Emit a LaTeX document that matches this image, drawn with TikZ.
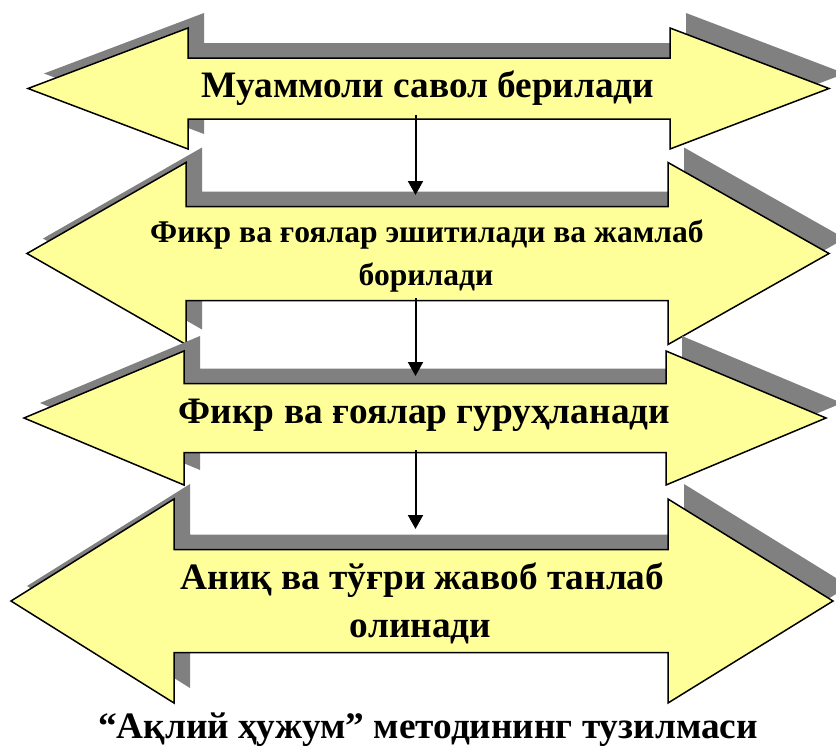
\documentclass[tikz,border=0pt]{standalone}
\usepackage{fontspec}
\setmainfont{Liberation Serif}
\usetikzlibrary{arrows.meta}
\definecolor{arrowfill}{HTML}{FFFF99}
\definecolor{shadowgray}{HTML}{808080}
\newcommand{\dblarrow}[8]{\path[#1] (#2,#6) -- (#3,#6-#7) -- (#3,#6-#8) -- (#4,#6-#8) -- (#4,#6-#7) -- (#5,#6) -- (#4,#6+#7) -- (#4,#6+#8) -- (#3,#6+#8) -- (#3,#6+#7) -- cycle;}
\begin{document}
\begin{tikzpicture}[x=1pt,y=-1pt,
  shadowshape/.style={fill=shadowgray,shift={(16,-15)}},
  arrowshape/.style={fill=arrowfill,draw=black,line width=1.5pt,line join=miter},
  steptext/.style={anchor=base,inner sep=0pt,font=\bfseries},
  connector/.style={draw=black,line width=2pt,-{Triangle[width=15pt,length=14pt]}}]
\useasboundingbox (0,0) rectangle (836,747);
\clip (0,0) rectangle (836,747);
% arrow 1
\dblarrow{shadowshape}{28}{188}{670}{829}{88.5}{60.5}{30.5}
\dblarrow{arrowshape}{28}{188}{670}{829}{88.5}{60.5}{30.5}
% arrow 2
\dblarrow{shadowshape}{27}{186}{668}{829}{253.5}{91}{47}
\dblarrow{arrowshape}{27}{186}{668}{829}{253.5}{91}{47}
% arrow 3
\dblarrow{shadowshape}{24}{184}{666}{826}{418}{67}{34.5}
\dblarrow{arrowshape}{24}{184}{666}{826}{418}{67}{34.5}
% arrow 4
\dblarrow{shadowshape}{11}{174}{668}{833}{601}{102}{51.5}
\dblarrow{arrowshape}{11}{174}{668}{833}{601}{102}{51.5}
% texts
\node[steptext,font=\bfseries\fontsize{37.3}{44}\selectfont] (t1) at (428,97) {Муаммоли савол берилади};
\node[steptext,font=\bfseries\fontsize{31.6}{38}\selectfont] (t2a) at (427,242) {Фикр ва ғоялар эшитилади ва жамлаб};
\node[steptext,font=\bfseries\fontsize{31.6}{38}\selectfont] (t2b) at (426,285) {борилади};
\node[steptext,font=\bfseries\fontsize{37.3}{44}\selectfont] (t3) at (424.5,423) {Фикр ва ғоялар гуруҳланади};
\node[steptext,font=\bfseries\fontsize{37.3}{44}\selectfont] (t4a) at (422.5,589) {Аниқ ва тўғри жавоб танлаб};
\node[steptext,font=\bfseries\fontsize{37.3}{44}\selectfont] (t4b) at (420.5,637) {олинади};
\node[steptext,font=\bfseries\fontsize{37.3}{44}\selectfont] (title) at (428,738) {“Ақлий ҳужум” методининг тузилмаси};
% connectors
\coordinate (c1s) at (415.5,115);
\coordinate (c1e) at (415.5,195);
\coordinate (c2s) at (415.5,298);
\coordinate (c2e) at (415.5,376);
\coordinate (c3s) at (415.5,450);
\coordinate (c3e) at (415.5,529);
\draw[connector] (c1s) -- (c1e);
\draw[connector] (c2s) -- (c2e);
\draw[connector] (c3s) -- (c3e);
\end{tikzpicture}
\end{document}
